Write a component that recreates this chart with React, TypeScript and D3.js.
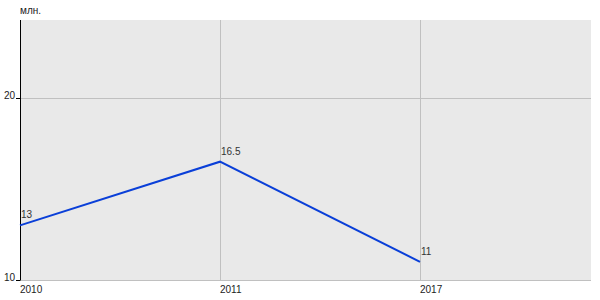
import React from "react";
import * as d3 from "d3";

const categories = ["2010", "2011", "2017"];
const values = [13, 16.5, 11];
const valueLabels = ["13", "16.5", "11"];
const yTicks = [10, 20];
const unitLabel = "млн.";

export default function App() {
  const W = 600, H = 300;
  const left = 20, right = 591, top = 20, bottom = 280;
  const x = d3.scalePoint<string>().domain(categories).range([left, 420]);
  const y = d3.scaleLinear().domain([10, 20]).range([bottom, 98]);
  const line = d3.line<number>()
    .x((_, i) => x(categories[i])!)
    .y((d) => y(d));
  const font = "Arial, 'Liberation Sans', sans-serif";
  return (
    <svg width={W} height={H} style={{ position: "absolute", left: 0, top: 0 }} fontFamily={font}>
      <rect x={left} y={top} width={right - left} height={bottom - top} fill="#e9e9e9" />
      {categories.map((c) => (
        <line key={c} x1={x(c)! + 0.5} x2={x(c)! + 0.5} y1={top} y2={bottom} stroke="#c0c0c0" strokeWidth={1} />
      ))}
      {yTicks.map((t) => (
        <line key={t} x1={left} x2={right} y1={Math.round(y(t)) + 0.5} y2={Math.round(y(t)) + 0.5} stroke="#c0c0c0" strokeWidth={1} />
      ))}
      <line x1={left + 0.5} x2={left + 0.5} y1={top} y2={bottom + 0.5} stroke="#000" strokeWidth={1} />
      {yTicks.map((t) => (
        <g key={"t" + t}>
          <line x1={left - 4} x2={left} y1={Math.round(y(t)) + 0.5} y2={Math.round(y(t)) + 0.5} stroke="#000" />
          <text x={left - 5} y={y(t) + 1} textAnchor="end" fontSize={10} fill="#222">{t}</text>
        </g>
      ))}
      {categories.map((c) => (
        <text key={"l" + c} x={x(c)!} y={293} fontSize={10} fill="#222">{c}</text>
      ))}
      <text x={left} y={14} fontSize={10} fill="#222">{unitLabel}</text>
      <path d={line(values)!} fill="none" stroke="#0a3fd8" strokeWidth={2} />
      {values.map((v, i) => (
        <text key={"v" + i} x={x(categories[i])! + 1} y={y(v) - 7} fontSize={10} fill="#333">{valueLabels[i]}</text>
      ))}
    </svg>
  );
}
